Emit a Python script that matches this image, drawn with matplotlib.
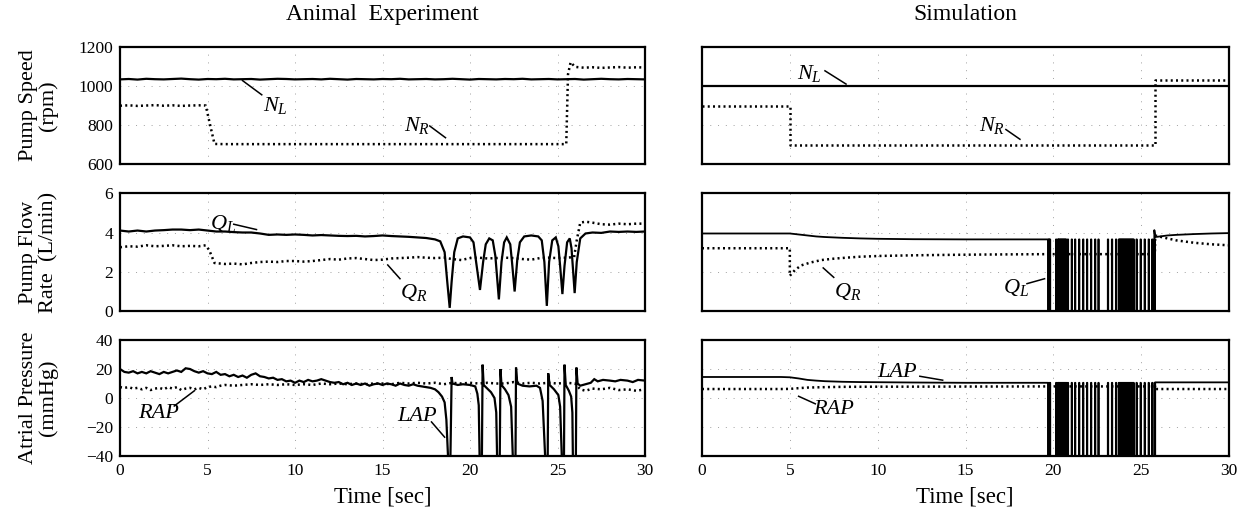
import numpy as np
import matplotlib
matplotlib.use('Agg')
import matplotlib.pyplot as plt

plt.rcParams['font.family'] = ['Liberation Serif', 'DejaVu Serif']
plt.rcParams['mathtext.fontset'] = 'custom'
plt.rcParams['mathtext.it'] = 'Liberation Serif:italic'
plt.rcParams['mathtext.rm'] = 'Liberation Serif'

# ---------------- Animal experiment data ----------------
exp_nl_t = np.arange(0, 30.01, 0.5)
exp_nl = [1034, 1036, 1033, 1037, 1035, 1034, 1036, 1038, 1035, 1033,
          1036, 1035, 1037, 1034, 1035, 1036, 1033, 1035, 1037, 1036,
          1034, 1035, 1036, 1034, 1037, 1035, 1033, 1036, 1035, 1034,
          1036, 1035, 1037, 1034, 1035, 1036, 1034, 1035, 1037, 1035,
          1033, 1036, 1035, 1034, 1036, 1035, 1037, 1034, 1035, 1036,
          1034, 1035, 1036, 1033, 1035, 1037, 1035, 1034, 1036, 1035,
          1034]

exp_nr_t = [0, 0.5, 1, 1.5, 2, 2.5, 3, 3.5, 4, 4.5, 4.9, 5.15, 5.4, 6, 8, 10, 12,
            14, 16, 18, 20, 22, 24, 25.5, 25.6, 25.75, 26, 26.5, 27, 27.5, 28,
            28.5, 29, 29.5, 30]
exp_nr = [899, 901, 898, 900, 902, 899, 901, 898, 900, 901, 900, 800, 703, 702,
          702, 702, 702, 702, 702, 702, 702, 702, 702, 702, 1060, 1122, 1098,
          1094, 1096, 1093, 1095, 1097, 1094, 1096, 1095]

exp_ql_t = [0, 0.5, 1, 1.5, 2, 2.5, 3, 3.5, 4, 4.5, 5, 5.5, 6, 6.5, 7, 7.5, 8,
            8.5, 9, 9.5, 10, 10.5, 11, 11.5, 12, 12.5, 13, 13.5, 14, 14.5, 15,
            15.5, 16, 16.5, 17, 17.5, 18.0, 18.3, 18.55, 18.7, 18.84, 18.95,
            19.1, 19.3, 19.6, 20.0, 20.2, 20.35, 20.57, 20.75, 20.9, 21.1, 21.3,
            21.45, 21.65, 21.8, 21.95, 22.1, 22.3, 22.4, 22.55, 22.7, 22.85,
            23.1, 23.5, 23.9, 24.1, 24.25, 24.39, 24.52, 24.7, 24.9, 25.05,
            25.15, 25.28, 25.4, 25.55, 25.7, 25.8, 25.88, 25.98, 26.1, 26.3,
            26.6, 27, 27.5, 28, 28.5, 29, 29.5, 30]
exp_ql = [4.1, 4.05, 4.1, 4.05, 4.1, 4.12, 4.15, 4.15, 4.12, 4.15, 4.1, 4.05,
          4.05, 4.02, 4.0, 4.0, 3.95, 3.88, 3.9, 3.88, 3.9, 3.88, 3.85, 3.87,
          3.85, 3.83, 3.82, 3.83, 3.8, 3.82, 3.85, 3.82, 3.8, 3.78, 3.75, 3.72,
          3.65, 3.55, 3.0, 1.5, 0.17, 1.5, 3.0, 3.7, 3.8, 3.75, 3.5, 2.5, 1.08,
          2.5, 3.4, 3.7, 3.6, 2.8, 0.6, 2.5, 3.5, 3.75, 3.4, 2.5, 1.0, 2.6, 3.5,
          3.8, 3.85, 3.8, 3.6, 2.5, 0.27, 2.5, 3.6, 3.75, 3.3, 2.3, 0.87, 2.3,
          3.5, 3.7, 3.2, 2.2, 0.92, 2.5, 3.7, 3.95, 4.0, 3.98, 4.05, 4.03, 4.05,
          4.03, 4.05]

exp_qr_t = [0, 0.5, 1, 1.5, 2, 2.5, 3, 3.5, 4, 4.5, 4.9, 5.1, 5.4, 6, 6.5, 7,
            7.5, 8, 8.5, 9, 9.5, 10, 10.5, 11, 11.5, 12, 12.5, 13, 13.5, 14,
            14.5, 15, 15.5, 16, 16.5, 17, 17.5, 18, 18.5, 19, 19.5, 20, 20.5,
            21, 21.5, 22, 22.5, 23, 23.5, 24, 24.5, 25, 25.5, 25.95, 26.1, 26.3,
            26.6, 27, 27.5, 28, 28.5, 29, 29.5, 30]
exp_qr = [3.25, 3.3, 3.28, 3.35, 3.3, 3.32, 3.35, 3.3, 3.32, 3.3, 3.35, 3.1,
          2.45, 2.4, 2.42, 2.38, 2.45, 2.5, 2.52, 2.5, 2.55, 2.55, 2.52, 2.55,
          2.6, 2.65, 2.62, 2.68, 2.7, 2.65, 2.6, 2.62, 2.68, 2.7, 2.72, 2.75,
          2.72, 2.7, 2.72, 2.65, 2.6, 2.7, 2.72, 2.68, 2.7, 2.72, 2.7, 2.65,
          2.62, 2.7, 2.72, 2.7, 2.72, 2.75, 3.6, 4.5, 4.55, 4.5, 4.42, 4.4,
          4.45, 4.42, 4.45, 4.45]

exp_lap_t = [0, 0.25, 0.5, 0.75, 1, 1.25, 1.5, 1.75, 2, 2.25, 2.5, 2.75, 3,
             3.25, 3.5, 3.75, 4, 4.25, 4.5, 4.75, 5, 5.25, 5.5, 5.75, 6, 6.25,
             6.5, 6.75, 7, 7.25, 7.5, 7.75, 8, 8.25, 8.5, 8.75, 9, 9.25, 9.5,
             9.75, 10, 10.25, 10.5, 10.75, 11, 11.25, 11.5, 11.75, 12, 12.25,
             12.5, 12.75, 13, 13.25, 13.5, 13.75, 14, 14.25, 14.5, 14.75, 15,
             15.25, 15.5, 15.75, 16, 16.25, 16.5, 16.75, 17, 17.25, 17.5, 17.75,
             18, 18.2, 18.4, 18.55, 18.65, 18.75, 18.88, 18.95, 19.0, 19.3,
             19.6, 20.0, 20.3, 20.42, 20.5, 20.55, 20.68, 20.72, 20.78, 20.95,
             21.2, 21.4, 21.5, 21.55, 21.7, 21.74, 21.8, 22.0, 22.2, 22.35,
             22.45, 22.6, 22.63, 22.7, 23.0, 23.4, 23.8, 24.0, 24.15, 24.3,
             24.44, 24.47, 24.55, 24.8, 25.05, 25.15, 25.25, 25.37, 25.4, 25.47,
             25.65, 25.78, 25.85, 25.88, 26.05, 26.08, 26.15, 26.3, 26.6, 26.9,
             27.1, 27.3, 27.6, 28, 28.3, 28.6, 29, 29.3, 29.6, 30]
exp_lap = [20, 18, 17.5, 18.5, 17, 18, 17, 18.5, 17.5, 16.5, 18, 17, 18, 19, 18,
           20.5, 20, 18.5, 17.5, 18.5, 17, 16.5, 18, 16, 16.5, 15, 16, 14.5,
           15.5, 14, 16, 17, 15, 14.5, 13.5, 14, 12.5, 13, 11.5, 12, 10.5, 12,
           11, 12.5, 11.5, 12, 13, 12, 11, 10.5, 11, 9.5, 10.5, 9, 10, 9, 10,
           8.5, 9.5, 10, 9, 10, 9.5, 8.5, 10, 9, 8.5, 9.5, 8.5, 8, 7.5, 7, 6, 4,
           1, -3, -15, -42, -42, 14.5, 10, 9, 9.5, 9, 8, 3, -5, -42, -42, 23, 9,
           7, 4, 0, -10, -42, -42, 20, 9, 6, 2, -6, -42, -42, 21, 10, 8.5, 8,
           8.5, 7, -2, -42, -42, 17, 9, 6, 2, -6, -42, -42, 23, 9, 5, 1, -10,
           -42, -42, 21, 10, 8.5, 9.5, 10.5, 13, 11.5, 12.5, 12, 11.5, 12.5, 12,
           11, 12.5, 12]

exp_rap_t = [0, 0.25, 0.5, 0.75, 1, 1.25, 1.5, 1.75, 2, 2.25, 2.5, 2.75, 3,
             3.25, 3.5, 3.75, 4, 4.25, 4.5, 4.75, 5, 5.25, 5.5, 5.75, 6, 6.5, 7,
             7.5, 8, 8.5, 9, 9.5, 10, 10.5, 11, 11.5, 12, 12.5, 13, 13.5, 14,
             14.5, 15, 15.5, 16, 16.5, 17, 17.5, 18, 18.5, 19, 19.5, 20, 20.5,
             21, 21.5, 22, 22.5, 23, 23.5, 24, 24.5, 25, 25.5, 26, 26.3, 26.6,
             27, 27.5, 28, 28.5, 29, 29.5, 30]
exp_rap = [7.5, 7, 7.5, 6.5, 7, 6, 7, 5.5, 6.5, 7, 6, 7.5, 6.5, 7.5, 5.5, 6.5,
           7, 6, 7, 6, 7.5, 8, 7.5, 8.5, 9, 8.5, 9, 9.5, 9, 9.5, 9, 9.5, 9, 9.5,
           9, 10, 9.5, 10, 9.5, 10, 9.5, 10, 10, 9.5, 10.5, 10, 10.5, 10, 10.5,
           9.5, 10.5, 10, 10.5, 10, 10.5, 10, 10, 11, 10, 10.5, 10, 10.5, 10,
           10.5, 10, 6, 5, 6.5, 6, 7, 5.5, 6, 5, 6]

# ---------------- Simulation data ----------------
sim_nl_t = [0, 30]
sim_nl = [1000, 1000]
sim_nr_t = [0, 5, 5, 25.8, 25.8, 30]
sim_nr = [900, 900, 700, 700, 1030, 1030]

sim_ql_pre_t = [0, 5, 5.5, 6, 6.5, 7, 8, 9, 10, 12, 15, 19.7]
sim_ql_pre = [3.95, 3.95, 3.9, 3.85, 3.8, 3.77, 3.73, 3.7, 3.68, 3.66, 3.65, 3.65]
sim_ql_post_t = [25.75, 25.8, 25.9, 26.5, 27, 28, 29, 30]
sim_ql_post = [4.12, 3.78, 3.78, 3.85, 3.88, 3.92, 3.95, 3.97]
sim_ql_high = 3.65
sim_ql_low = 0.0

sim_qr_t = [0, 5, 5.0, 5.3, 5.65, 6.2, 6.8, 7.5, 8.2, 9, 10.2, 12, 13.7, 16,
            19.7, 25.78, 25.8, 26, 26.5, 27, 28, 29, 30]
sim_qr = [3.2, 3.2, 1.8, 2.1, 2.33, 2.48, 2.6, 2.67, 2.72, 2.77, 2.81, 2.84,
          2.86, 2.88, 2.9, 2.9, 3.85, 3.8, 3.7, 3.6, 3.48, 3.4, 3.35]

sim_lap_pre_t = [0, 4.5, 5, 5.5, 6, 6.5, 7, 8, 9, 10, 12, 15, 19.7]
sim_lap_pre = [14.5, 14.5, 14.3, 13.5, 12.5, 12, 11.6, 11.2, 11, 10.9, 10.7,
               10.5, 10.5]
sim_lap_post_t = [25.8, 30]
sim_lap_post = [10.8, 10.8]
sim_lap_high = 10.5
sim_lap_low = -45

sim_rap_t = [0, 4.5, 5, 5.5, 6, 7, 8, 10, 15, 19.7, 25.8, 25.8, 30]
sim_rap = [6.2, 6.2, 6.3, 6.8, 7.2, 7.5, 7.7, 7.8, 7.9, 8, 8, 6.2, 6.2]

# suction spike onset times (simulation)
sim_spikes = [19.74, 19.80, 20.15, 20.25, 20.30, 20.36, 20.42, 20.48, 20.54,
              20.60, 20.66, 20.72, 20.82, 21.04, 21.23, 21.46, 21.69, 21.91,
              22.14, 22.37, 22.56,
              23.10, 23.33, 23.56, 23.72, 23.78, 23.84, 23.90, 23.96, 24.02,
              24.08, 24.14, 24.20, 24.26, 24.32, 24.38, 24.44, 24.50, 24.56,
              24.73, 24.96, 25.19, 25.42, 25.62, 25.76]
spike_width = 0.025


def suction_wave(pre_t, pre_v, post_t, post_v, spikes, low, high):
    t = list(pre_t) + [pre_t[-1]]
    v = list(pre_v) + [low]
    for s in spikes:
        t += [s, s, s + spike_width, s + spike_width]
        v += [low, high, high, low]
    t += [post_t[0]]
    v += [low]
    t += list(post_t)
    v += list(post_v)
    return t, v


sim_ql_t, sim_ql = suction_wave(sim_ql_pre_t, sim_ql_pre, sim_ql_post_t,
                                sim_ql_post, sim_spikes, sim_ql_low, sim_ql_high)
sim_lap_t, sim_lap = suction_wave(sim_lap_pre_t, sim_lap_pre, sim_lap_post_t,
                                  sim_lap_post, sim_spikes, sim_lap_low,
                                  sim_lap_high)

# ---------------- figure ----------------
fig = plt.figure(figsize=(12.5, 5.11), dpi=100)
rows = [(0.679, 0.229), (0.391, 0.231), (0.1076, 0.227)]
cols = [(0.096, 0.42), (0.5616, 0.4216)]
axes = [[fig.add_axes([c[0], r[0], c[1], r[1]]) for c in cols] for r in rows]

ylims = [(600, 1200), (0, 6), (-40, 40)]
yticks = [[600, 800, 1000, 1200], [0, 2, 4, 6], [-40, -20, 0, 20, 40]]
xticks = [0, 5, 10, 15, 20, 25, 30]

solid = dict(color='black', lw=1.6, solid_joinstyle='miter')
dotted = dict(color='black', lw=1.8, linestyle=(0, (0.8, 1.3)))

for i in range(3):
    for j in range(2):
        ax = axes[i][j]
        ax.set_xlim(0, 30)
        ax.set_ylim(*ylims[i])
        ax.set_xticks(xticks)
        ax.set_yticks(yticks[i])
        ax.grid(True, color='#a0a0a0', linestyle=(0, (1, 7)), lw=0.7)
        ax.set_axisbelow(True)
        ax.tick_params(length=0, labelsize=12.5, pad=5)
        for sp in ax.spines.values():
            sp.set_linewidth(1.6)
        if i < 2:
            ax.set_xticklabels([])
        if j == 1:
            ax.set_yticklabels([])

# top row
ax = axes[0][0]
ax.plot(exp_nl_t, exp_nl, **solid)
ax.plot(exp_nr_t, exp_nr, **dotted)
ax = axes[0][1]
ax.plot(sim_nl_t, sim_nl, **solid)
ax.plot(sim_nr_t, sim_nr, **dotted)

# middle row
ax = axes[1][0]
ax.plot(exp_ql_t, exp_ql, **solid)
ax.plot(exp_qr_t, exp_qr, **dotted)
ax = axes[1][1]
ax.plot(sim_ql_t, sim_ql, color='black', lw=1.3)
ax.plot(sim_qr_t, sim_qr, **dotted)

# bottom row
ax = axes[2][0]
ax.plot(exp_lap_t, exp_lap, **solid)
ax.plot(exp_rap_t, exp_rap, **dotted)
ax = axes[2][1]
ax.plot(sim_lap_t, sim_lap, color='black', lw=1.3)
ax.plot(sim_rap_t, sim_rap, **dotted)


def tag(ax, x, y, s, p0, p1):
    ax.text(x, y, s, ha='center', va='center', fontsize=16, fontstyle='italic')
    ax.plot([p0[0], p1[0]], [p0[1], p1[1]], color='black', lw=1.1)


tag(axes[0][0], 8.9, 900, r'$N_L$', (7.0, 1028), (8.1, 955))
tag(axes[0][0], 17.0, 800, r'$N_R$', (17.7, 795), (18.6, 735))
tag(axes[0][1], 6.1, 1065, r'$N_L$', (7.0, 1078), (8.2, 1010))
tag(axes[0][1], 16.5, 795, r'$N_R$', (17.3, 777), (18.1, 727))

tag(axes[1][0], 5.9, 4.45, r'$Q_L$', (6.5, 4.42), (7.8, 4.15))
tag(axes[1][0], 16.8, 0.95, r'$Q_R$', (15.3, 2.35), (16.0, 1.65))
tag(axes[1][1], 8.3, 1.0, r'$Q_R$', (6.9, 2.2), (7.5, 1.72))
tag(axes[1][1], 17.9, 1.2, r'$Q_L$', (18.5, 1.4), (19.5, 1.65))

tag(axes[2][0], 2.2, -11, 'RAP', (3.1, -5.5), (4.25, 5))
tag(axes[2][0], 17.0, -13, 'LAP', (17.8, -16.5), (18.55, -27))
tag(axes[2][1], 11.1, 17.5, 'LAP', (12.4, 15), (13.7, 12.3))
tag(axes[2][1], 7.5, -8, 'RAP', (5.5, 1.2), (6.45, -4))

# titles and labels
fig.text(0.306, 0.972, 'Animal  Experiment', ha='center', va='center', fontsize=17)
fig.text(0.772, 0.972, 'Simulation', ha='center', va='center', fontsize=17)
ylabels = ['Pump Speed\n(rpm)', 'Pump Flow\nRate  (L/min)', 'Atrial Pressure\n(mmHg)']
for i, lab in enumerate(ylabels):
    b, h = rows[i]
    fig.text(0.031, b + h / 2, lab, rotation=90, ha='center', va='center',
             multialignment='center', fontsize=16, linespacing=1.05)
fig.text(0.306, 0.027, 'Time [sec]', ha='center', va='center', fontsize=16.5)
fig.text(0.772, 0.027, 'Time [sec]', ha='center', va='center', fontsize=16.5)

fig.savefig('out.png', dpi=100)
